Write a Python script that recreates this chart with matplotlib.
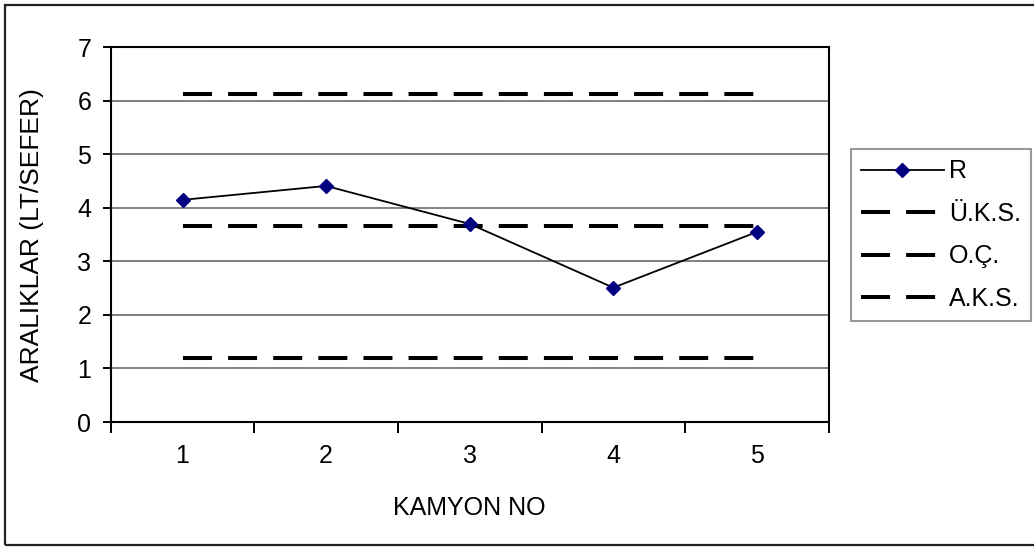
import matplotlib
matplotlib.use("Agg")
import matplotlib.pyplot as plt
from matplotlib.patches import Rectangle

plt.rcParams['font.family'] = ['Liberation Sans', 'DejaVu Sans']

# kamyon numaraları ve aralık değerleri
kamyon = [1, 2, 3, 4, 5]
r_values = [4.15, 4.41, 3.70, 2.51, 3.55]
uks = [6.13] * 5   # üst kontrol sınırı
oc = [3.66] * 5    # orta çizgi
aks = [1.20] * 5   # alt kontrol sınırı
y_ticks = [0, 1, 2, 3, 4, 5, 6, 7]

fs = 18
W, H = 1034, 549
fig = plt.figure(figsize=(W / 100, H / 100), dpi=100)

# plot area (pixel box converted to figure fractions)
left, right, top, bottom = 110.7, 828.7, 47.3, 422.0
ax = fig.add_axes([left / W, 1 - bottom / H, (right - left) / W, (bottom - top) / H])

dash = dict(color='black', linewidth=2.9, dashes=(7.2, 4.0), dash_capstyle='butt')
ax.plot(kamyon, r_values, color='black', linewidth=1.3, marker='D',
        markersize=7.5, markerfacecolor='#000080', markeredgecolor='#000080',
        label='R', zorder=4)
ax.plot(kamyon, uks, label='Ü.K.S.', zorder=3, **dash)
ax.plot(kamyon, oc, label='O.Ç.', zorder=3, **dash)
ax.plot(kamyon, aks, label='A.K.S.', zorder=3, **dash)

ax.set_xlim(0.5, 5.5)
ax.set_ylim(0, 7)
ax.set_yticks(y_ticks)
ax.set_yticklabels([str(v) for v in y_ticks], fontsize=fs)
ax.yaxis.grid(True, color='#808080', linewidth=1.4)
ax.set_axisbelow(True)

# category boundaries carry the tick marks, labels sit at the centers
ax.set_xticks([0.5, 1.5, 2.5, 3.5, 4.5, 5.5])
ax.set_xticklabels([])
ax.set_xticks(kamyon, minor=True)
ax.set_xticklabels([str(k) for k in kamyon], minor=True, fontsize=fs)
ax.tick_params(axis='x', which='minor', length=0, pad=16)
ax.tick_params(axis='both', which='major', length=6, width=1.4, color='black')
ax.tick_params(axis='x', which='major', length=8)
ax.tick_params(axis='y', pad=8)

for s in ax.spines.values():
    s.set_linewidth(1.5)
    s.set_color('black')

ax.set_xlabel('KAMYON NO', fontsize=fs, labelpad=20)
ax.set_ylabel('ARALIKLAR (LT/SEFER)', fontsize=19, labelpad=24)

leg = fig.legend(loc='upper left', bbox_to_anchor=(850.7 / W, 1 - 149 / H),
                 fontsize=fs, frameon=True, fancybox=False, shadow=False,
                 handlelength=3.3, handletextpad=0.2, labelspacing=0.74,
                 borderpad=0.42, borderaxespad=0, numpoints=1)
leg.get_frame().set_edgecolor('#808080')
leg.get_frame().set_linewidth(1.5)

# outer chart border
fig.patches.append(Rectangle((5 / W, 1 - 545 / H), (W + 10) / W, (540) / H,
                             transform=fig.transFigure, fill=False,
                             edgecolor='#222222', linewidth=1.6))

fig.savefig('out.png', dpi=100)
